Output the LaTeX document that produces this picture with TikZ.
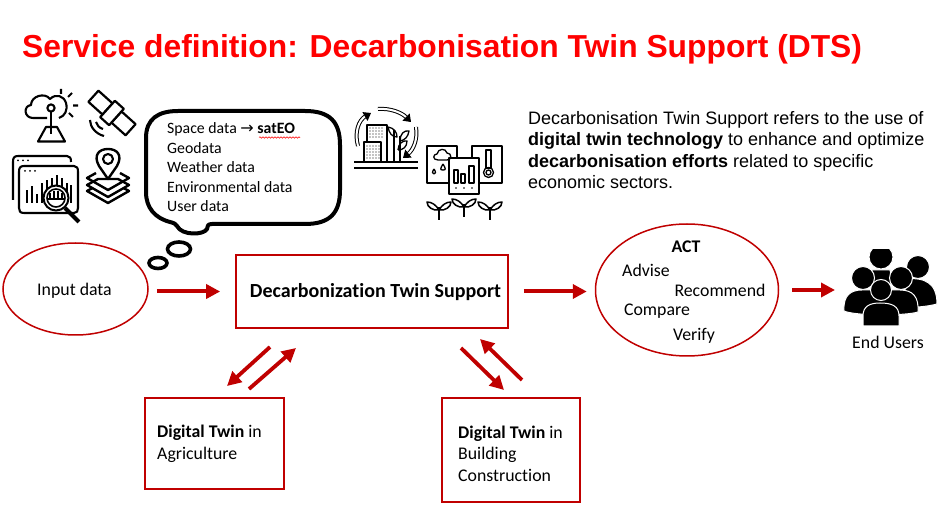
\documentclass[tikz,border=0pt]{standalone}
\usepackage{fontspec}
\setmainfont[Ligatures=NoCommon]{Carlito}
\newfontfamily\arialfont{Liberation Sans}
\usetikzlibrary{arrows.meta,decorations.pathmorphing,shapes.geometric,calc}
\definecolor{dred}{HTML}{C00000}
\tikzset{
  flow/.style={draw=dred,line width=4pt,-{Triangle[length=14pt,width=14pt]}},
  flowthin/.style={draw=dred,line width=3.8pt,-{Triangle[length=14pt,width=14pt]}},
  redbox/.style={draw=dred,line width=1.7pt,rectangle,inner sep=0pt},
  redell/.style={draw=dred,line width=1.5pt,ellipse,inner sep=0pt},
  lbl/.style={inner sep=0pt,font=\fontsize{17.8}{21}\selectfont,text=black},
  bub/.style={inner sep=0pt,anchor=west,font=\fontsize{15.8}{18}\selectfont,text=black},
  ic/.style={line width=2.1pt,draw=black,line join=round},
  ict/.style={line width=1.3pt,draw=black,line join=round},
  person/.style={fill=black,draw=white,line width=1pt},
  cyc/.style={draw=black,line width=1pt,double=white,double distance=2pt,-{Triangle[length=7pt,width=10pt]}},
}
\begin{document}
\begin{tikzpicture}[x=1pt,y=-1pt]
\useasboundingbox (0,0) rectangle (943,518);
\fill[white] (0,0) rectangle (943,518);

% title
\node[inner sep=0pt,anchor=west,text=red,font=\arialfont\bfseries\fontsize{31.8}{36}\selectfont] (title) at (22,49)
  {Service definition: Decarbonisation Twin Support (DTS)};

% description
\node[inner sep=0pt,anchor=north west,align=left,text=black,font=\arialfont\fontsize{18}{21.4}\selectfont] (desc) at (528,111)
  {Decarbonisation Twin Support refers to the use of\\
   {\bfseries digital twin technology} to enhance and optimize\\
   {\bfseries decarbonisation efforts} related to specific\\
   economic sectors.};

% thought bubble
\draw[black,line width=4pt,fill=white,line join=round]
  (146,138) .. controls (146,119) and (158,111) .. (178,111)
  -- (305,111) .. controls (330,111) and (340,122) .. (340,145)
  -- (340,190) .. controls (340,213) and (330,224) .. (305,224)
  -- (212,224) .. controls (208,224) and (207,226) .. (207,229)
  .. controls (204,235) and (182,236) .. (177,226)
  .. controls (176,224) and (174,223) .. (170,222)
  .. controls (155,218) and (146,208) .. (146,192) -- cycle;
\draw[black,line width=3.6pt] (179,249) ellipse [x radius=11.5,y radius=7];
\draw[black,line width=3.6pt] (158,263) ellipse [x radius=9,y radius=5.5];
\node[bub] (b1) at (167,129) {Space data {\fontspec{DejaVu Sans}\fontsize{16}{18}\selectfont →} \textbf{satEO}};
\node[bub] (b2) at (167,148.5) {Geodata};
\node[bub] (b3) at (167,167.5) {Weather data};
\node[bub] (b4) at (167,187) {Environmental data};
\node[bub] (b5) at (167,206) {User data};
\draw[red,line width=0.6pt,decorate,decoration={snake,amplitude=0.7pt,segment length=3pt}] (259,137.5) -- (300,137.5);

% weather icon
\draw[ic] (47,118) -- (33,118) .. controls (24,118) and (23,106) .. (31,105)
  .. controls (31,96) and (45,92) .. (50,99) .. controls (56,93) and (64,96) .. (66,103)
  .. controls (68,110) and (65,116) .. (59,118);
\draw[ic] (51,108) circle (3.6);
\draw[ic] (51,112) -- (51,134);
\draw[ic] (38,141.5) -- (65,141.5) -- (57,127) -- (46,127) -- cycle;
\draw[ic] (61,89) -- (61,94) (72,93) -- (68,97) (78,105.5) -- (73,105.5) (73,117) -- (69,113);

% satellite icon
\begin{scope}[shift={(112,113)},rotate=-42]
  \draw[ic,line width=2.2pt,fill=white] (-25,-7.5) rectangle (-6,7.5);
  \draw[ic,line width=2.2pt,fill=white] (6,-7.5) rectangle (25,7.5);
  \draw[ic,line width=2.2pt,fill=white] (-6,-11) rectangle (6,11);
\end{scope}
\draw[ic] (90,120) .. controls (90,127) and (96,134) .. (104,136);
\draw[ic] (96,122) .. controls (97,125) and (99,128) .. (103,129);

% dashboard icon
\draw[ic] (13,200) -- (13,162) .. controls (13,158) and (14,156) .. (18,156) -- (67,156) .. controls (70,156) and (71,158) .. (71,162);
\draw[ic,fill=white] (19,172) .. controls (19,168) and (20,166) .. (24,166) -- (74,166) .. controls (77,166) and (78,168) .. (78,172)
  -- (78,208) .. controls (78,211) and (77,213) .. (74,213) -- (24,213) .. controls (20,213) and (19,211) .. (19,208) -- cycle;
\fill (18,160.5) circle (1) (23,160.5) circle (1) (28,160.5) circle (1);
\fill (25,171) circle (1) (30,171) circle (1) (35,171) circle (1);
\foreach \x/\t in {27/190,32/186,37/194,42/183,47/180,52/178,57/175,62/178,67/183,71/185}{
  \draw[black,line width=1.9pt] (\x,203) -- (\x,\t);
}
\draw[black,line width=4pt] (65,208) -- (79,222);
\draw[black,line width=2pt,fill=white] (56,198) circle (12.5);
\draw[black,line width=1.6pt] (56,198) circle (9);
\foreach \x/\t in {50/193,54/191,58/191,62/193}{ \draw[black,line width=1.7pt] (\x,\t) -- (\x,199); }
\draw[black,line width=1.6pt] (47.5,199) -- (64.5,199);

% map pin icon
\draw[ic,line width=2.4pt,fill=white] (87,191) -- (98,185) -- (118,185) -- (129,191) -- (108,203) -- cycle;
\draw[ic,line width=2.4pt,fill=white] (87,185) -- (98,179) -- (118,179) -- (129,185) -- (108,197) -- cycle;
\draw[ic,line width=2.4pt] (96,173) -- (87,178) -- (108,190) -- (129,178) -- (120,173);
\draw[ic,line width=2.4pt,fill=white] (108,179) -- (99,166) .. controls (93,155) and (99,149) .. (108,149)
  .. controls (117,149) and (123,155) .. (117,166) -- cycle;
\draw[ic] (108,159) circle (5);

% city cycle icon
\draw[ict,fill=white] (367,161) -- (367,125) -- (387,125) -- (387,161);
\draw[ict,fill=white] (364,161) -- (364,142) -- (381,142) -- (381,161);
\foreach \x in {370,373,376,379,382}{ \foreach \y in {128,131,134,137}{ \fill (\x,\y) circle (0.7); } }
\foreach \x in {367,370,373,376,379}{ \foreach \y in {146,149,152,155,158}{ \fill (\x,\y) circle (0.7); } }
\draw[ict] (394,130) -- (394,161) (400,136) -- (400,161);
\draw[ict] (388,127) .. controls (394,128) and (397,132) .. (397,137) .. controls (392,137) and (389,133) .. (388,127);
\draw[ict] (400,141) .. controls (400,134) and (404,130) .. (409,131) .. controls (408,137) and (405,140) .. (400,141);
\draw[ict] (398,150) .. controls (398,144) and (403,140) .. (407,141) .. controls (407,147) and (403,150) .. (398,150);
\draw[ic] (354,162) -- (418,162) (354,168) -- (418,168);
\draw[cyc] (378,109) .. controls (391,108) and (402,113) .. (411,122);
\draw[cyc] (416,127) .. controls (418,140) and (413,150) .. (403,158);
\draw[cyc] (358,146) .. controls (354,132) and (359,120) .. (371,113);

% farm icon
\draw[ict] (427,146) rectangle (457,183);
\draw[ict] (472,146) rectangle (502,183);
\draw[ic,line width=1.6pt,fill=white] (449,158) rectangle (479,194);
\draw[ict] (438,160) .. controls (432,160) and (433,154) .. (437,154) .. controls (438,148) and (446,148) .. (447,153)
  .. controls (452,153) and (452,160) .. (447,160) -- cycle;
\draw[ict] (434,169) .. controls (432,172) and (432,174) .. (434,174) .. controls (436,174) and (436,172) .. (434,169);
\draw[ict] (443,164) .. controls (440,169) and (440,170) .. (443,170) .. controls (446,170) and (446,169) .. (443,164);
\draw[ict] (486,150) rectangle (491,168);
\draw[ict] (488.5,172.5) circle (5);
\draw[ict] (488.5,172.5) circle (2.5);
\draw[ict] (454,170) rectangle (458,183) (461,174) rectangle (465,183) (469,166) rectangle (474,183);
\fill (456,188) circle (0.8) (464,188) circle (0.8) (472,188) circle (0.8);
\foreach \x/\y in {439/201,464/198,490/201}{
  \draw[ict,line width=1.5pt] (\x,\y+6) -- (\x,\y+19);
  \draw[ict,line width=1.5pt] (\x,\y+9) .. controls (\x-3,\y+4) and (\x-7,\y+1) .. (\x-12,\y+1) .. controls (\x-12,\y+6) and (\x-6,\y+10) .. (\x,\y+9);
  \draw[ict,line width=1.5pt] (\x,\y+9) .. controls (\x+3,\y+4) and (\x+7,\y+1) .. (\x+12,\y+1) .. controls (\x+12,\y+6) and (\x+6,\y+10) .. (\x,\y+9);
}

% main nodes
\node[redell,minimum width=145pt,minimum height=92pt] (input) at (75.5,289) {};
\node[lbl] (inputt) at (74.5,290.5) {Input data};
\node[redbox,minimum width=272pt,minimum height=73pt] (dts) at (372,291.5) {};
\node[inner sep=0pt,font=\fontsize{20}{24}\selectfont\bfseries,text=black] (dtst) at (375.5,292) {Decarbonization Twin Support};
\node[redell,minimum width=183pt,minimum height=132pt] (act) at (687,290) {};
\node[lbl,font=\fontsize{17.8}{21}\selectfont\bfseries] (a0) at (686,247) {ACT};
\node[lbl] (a1) at (646,270) {Advise};
\node[lbl] (a2) at (720,290) {Recommend};
\node[lbl] (a3) at (657,311.5) {Compare};
\node[lbl] (a4) at (694,335.5) {Verify};

\node[redbox,minimum width=139pt,minimum height=91pt] (agri) at (214.5,443.5) {};
\node[lbl,anchor=north west,align=left,font=\fontsize{17.8}{21.4}\selectfont] (agrit) at (157,425) {\textbf{Digital Twin} in\\Agriculture};
\node[redbox,minimum width=138pt,minimum height=104pt] (bldg) at (511,450) {};
\node[lbl,anchor=north west,align=left,font=\fontsize{17.8}{21.6}\selectfont] (bldgt) at (458,425.5) {\textbf{Digital Twin} in\\Building\\Construction};

% end users icon
\begin{scope}
\clip (835,250) rectangle (943,326);
\node[circle,inner sep=0pt,minimum size=0pt] (users) at (881,288) {};
\draw[person] (918,267) circle (11.5);
\draw[person] (905,279) .. controls (925,277) and (937,283) .. (937,304) .. controls (930,306) and (915,308) .. (905,307) -- cycle;
\draw[person] (881,257) circle (12);
\draw[person] (872,270) -- (890,270) -- (893,284) -- (869,284) -- cycle;
\draw[person] (863,278) circle (11.5);
\draw[person] (901,278) circle (11.5);
\draw[person] (844,311) .. controls (843,295) and (851,290) .. (862,290) -- (900,290) .. controls (913,290) and (919,297) .. (918,312) .. controls (905,316) and (855,316) .. (844,311) -- cycle;
\draw[person] (881,290) circle (10.5);
\draw[person] (863,326) -- (863,316) .. controls (863,306) and (870,303) .. (880,303) .. controls (892,303) and (899,306) .. (899,316) -- (899,326) -- cycle;
\end{scope}
\node[lbl] (userst) at (888,342.5) {End Users};

% connectors
\draw[flow,shorten <=8pt,shorten >=15pt] (input.east |- dts.west) -- (dts.west);
\draw[flow,shorten <=15pt,shorten >=8pt] (dts.east) -- (dts.east -| act.west);
\draw[flow,shorten <=13pt,shorten >=0pt] (act.east) -- (835,290) coordinate (userin);
\coordinate (p1s) at (270,347); \coordinate (p1e) at (227,386);
\coordinate (p2s) at (249,389); \coordinate (p2e) at (296,348);
\coordinate (p3s) at (461,348); \coordinate (p3e) at (504,390);
\coordinate (p4s) at (522,380); \coordinate (p4e) at (480,339);
\draw[flowthin] (p1s) -- (p1e);
\draw[flowthin] (p2s) -- (p2e);
\draw[flowthin] (p3s) -- (p3e);
\draw[flowthin] (p4s) -- (p4e);
\end{tikzpicture}
\end{document}
